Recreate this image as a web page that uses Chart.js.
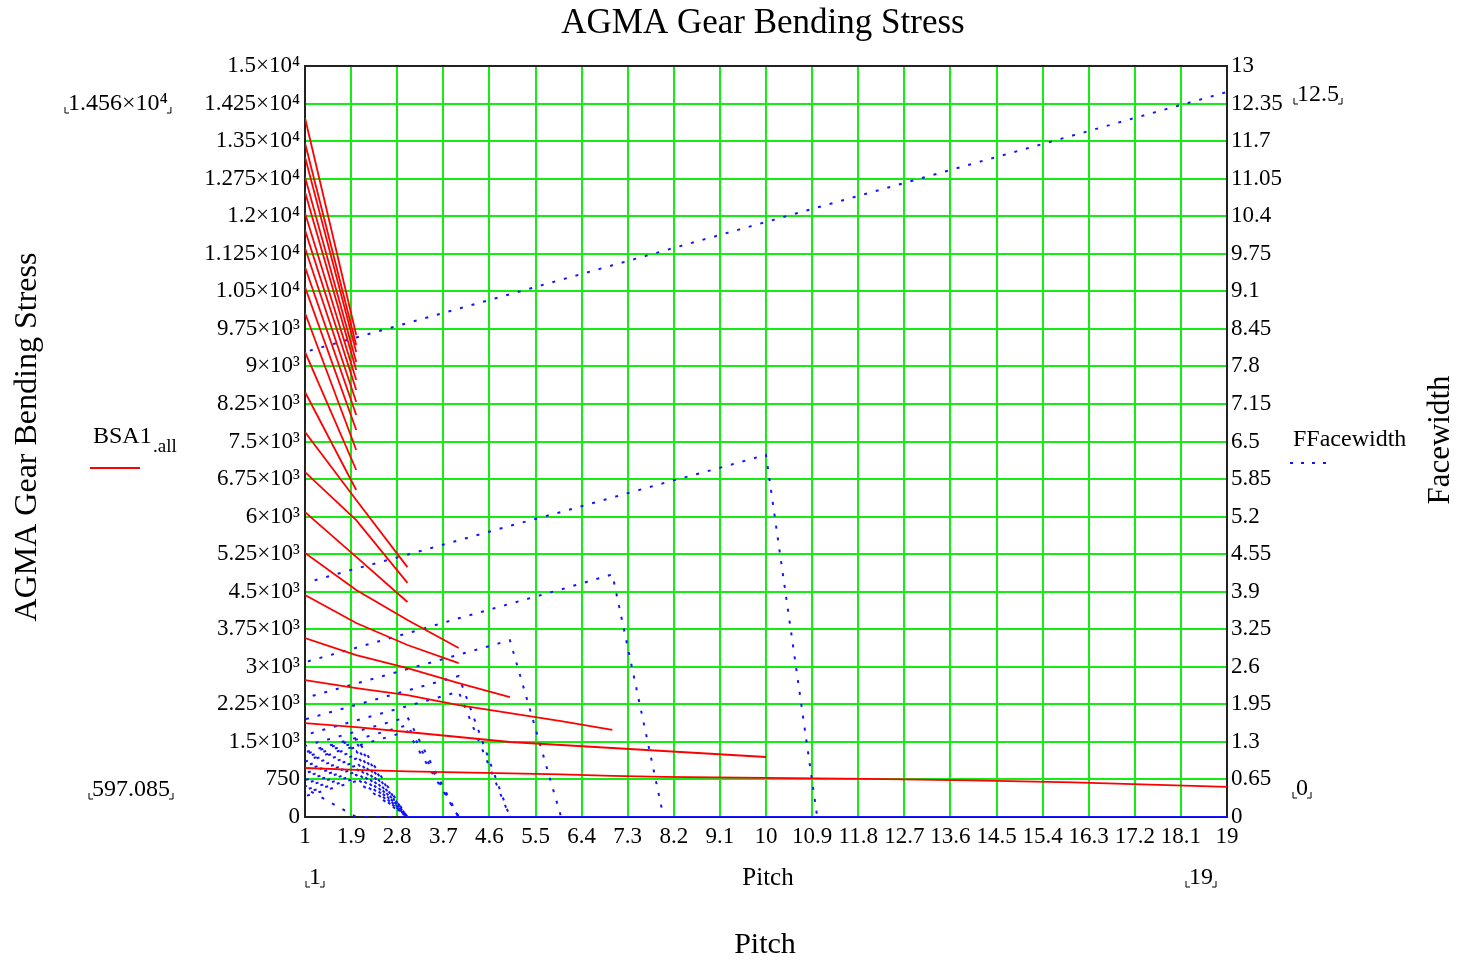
<!DOCTYPE html>
<html lang="en">
<head>
  <meta charset="UTF-8" />
  <title>AGMA Gear Bending Stress</title>
  <script src="https://cdn.jsdelivr.net/npm/chart.js"></script>
  <style>
    html, body { margin: 0; padding: 0; background: #fff; }
    #wrap { width: 1458px; height: 965px; }
  </style>
</head>
<body>
  <div id="wrap"><canvas id="gearChart"></canvas></div>

  <script>
    // Pitch values (x) and the tick labels of the three axes
    const pitch = [1, 2, 3, 4, 5, 6, 7, 8, 9, 10, 11, 12, 13, 14, 15, 16, 17, 18, 19];
    const pitchTicks = [1, 1.9, 2.8, 3.7, 4.6, 5.5, 6.4, 7.3, 8.2, 9.1, 10, 10.9, 11.8, 12.7, 13.6, 14.5, 15.4, 16.3, 17.2, 18.1, 19];
    const stressTicks = [0, 750, 1500, 2250, 3000, 3750, 4500, 5250, 6000, 6750, 7500, 8250, 9000, 9750, 10500, 11250, 12000, 12750, 13500, 14250, 15000];
    const faceTicks = [0, 0.65, 1.3, 1.95, 2.6, 3.25, 3.9, 4.55, 5.2, 5.85, 6.5, 7.15, 7.8, 8.45, 9.1, 9.75, 10.4, 11.05, 11.7, 12.35, 13];

    // BSA1.all - stress traces that stop at pitch 2 (value at pitch 1, value at pitch 2)
    const bsaTo2Start = [13961, 13462, 13182, 12783, 12483, 12064, 11724, 11365, 10985, 10586, 10066, 9288, 8489];
    const bsaTo2End = [9627, 9427, 9288, 9088, 8928, 8728, 8528, 8289, 8029, 7730, 7330, 6931, 6531];
    // longer stress traces, pitch 1..n
    const bsaTo3a = [7690, 6330, 4990];
    const bsaTo3b = [6890, 5930, 4675];
    const bsaTo3c = [6090, 5195, 4295];
    const bsaTo4a = [5275, 4535, 3935, 3375];
    const bsaTo4b = [4435, 3875, 3435, 3075];
    const bsaTo5 = [3575, 3235, 2975, 2675, 2395];
    const bsaTo7 = [2735, 2575, 2435, 2235, 2075, 1915, 1740];
    const bsaTo10 = [1877, 1797, 1698, 1598, 1498, 1438, 1378, 1318, 1258, 1198];
    const bsaTo19 = [979, 940, 910, 890, 870, 850, 820, 800, 790, 780, 770, 760, 745, 730, 710, 690, 660, 630, 600];

    // FFacewidth - matching facewidth traces, 0 after the last valid pitch
    const fwTo1 = [0.5];
    const fwTo2Start = [0.36, 0.42, 0.47, 0.53, 0.58, 0.64, 0.70, 0.76, 0.82, 0.89, 0.96, 1.04, 1.12];
    const fwTo2End = [0.62, 0.67, 0.73, 0.78, 0.84, 0.89, 0.95, 1.01, 1.07, 1.14, 1.21, 1.29, 1.37];
    const fwTo3a = [0.98, 1.23, 1.48];
    const fwTo3b = [1.09, 1.34, 1.59];
    const fwTo3c = [1.23, 1.48, 1.73];
    const fwTo4a = [1.42, 1.67, 1.92, 2.17];
    const fwTo4b = [1.69, 1.94, 2.19, 2.44];
    const fwTo5 = [2.06, 2.31, 2.56, 2.81, 3.06];
    const fwTo7 = [2.68, 2.93, 3.18, 3.44, 3.69, 3.94, 4.2];
    const fwTo10 = [4.05, 4.3, 4.54, 4.79, 5.04, 5.28, 5.53, 5.78, 6.02, 6.27];
    const fwTo19 = [8.05, 8.3, 8.55, 8.8, 9.05, 9.3, 9.55, 9.8, 10.05, 10.3, 10.55, 10.8, 11.05, 11.3, 11.55, 11.8, 12.05, 12.3, 12.55];

    const serif = "'Liberation Serif', 'Times New Roman', serif";

    function redTrace(values) {
      return {
        data: values.map((v, i) => ({ x: pitch[i], y: v })),
        yAxisID: 'y',
        borderColor: '#ff0000',
        borderWidth: 1.8,
        pointRadius: 0,
        tension: 0
      };
    }

    let dashShift = 0;
    function blueTrace(values) {
      // facewidth falls to 0 past the last pitch
      const full = values.concat(new Array(pitch.length - values.length).fill(0));
      dashShift = (dashShift + 5) % 12; // stagger the dots so parallel traces don't line up
      return {
        data: full.map((v, i) => ({ x: pitch[i], y: v })),
        yAxisID: 'y2',
        borderColor: '#1414ff',
        borderWidth: 2,
        borderDash: [3, 9],
        borderDashOffset: dashShift,
        pointRadius: 0,
        tension: 0
      };
    }

    const datasets = [];
    bsaTo2Start.forEach((s, i) => datasets.push(redTrace([s, bsaTo2End[i]])));
    [bsaTo3a, bsaTo3b, bsaTo3c, bsaTo4a, bsaTo4b, bsaTo5, bsaTo7, bsaTo10, bsaTo19]
      .forEach(t => datasets.push(redTrace(t)));
    datasets.push(blueTrace(fwTo1));
    fwTo2Start.forEach((s, i) => datasets.push(blueTrace([s, fwTo2End[i]])));
    [fwTo3a, fwTo3b, fwTo3c, fwTo4a, fwTo4b, fwTo5, fwTo7, fwTo10, fwTo19]
      .forEach(t => datasets.push(blueTrace(t)));

    // Mathcad style numbers: 1.5x10^3
    const sup = { 3: '\u00b3', 4: '\u2074' };
    function mathcadNum(v) {
      if (v < 1000) return String(v);
      const e = Math.floor(Math.log10(v));
      const m = +(v / Math.pow(10, e)).toFixed(4);
      return m + '\u00d710' + sup[e];
    }

    function bracketed(ctx, text, x, y) {
      const w = ctx.measureText(text).width;
      ctx.fillText(text, x, y);
      ctx.beginPath();
      ctx.moveTo(x - 3, y + 3); ctx.lineTo(x - 3, y + 9); ctx.lineTo(x + 1, y + 9);
      ctx.moveTo(x + w + 3, y + 3); ctx.lineTo(x + w + 3, y + 9); ctx.lineTo(x + w - 1, y + 9);
      ctx.stroke();
    }

    const frame = {
      id: 'frame',
      beforeDatasetsDraw(chart) {
        const { ctx, chartArea: a } = chart;
        ctx.save();
        ctx.strokeStyle = '#222';
        ctx.lineWidth = 2;
        ctx.strokeRect(a.left, a.top, a.right - a.left, a.bottom - a.top);
        ctx.restore();
      },
      afterDraw(chart) {
        const ctx = chart.ctx;
        ctx.save();
        ctx.fillStyle = '#000';
        ctx.strokeStyle = '#000';
        ctx.lineWidth = 1;
        ctx.textBaseline = 'middle';

        // title
        ctx.textAlign = 'center';
        ctx.font = '35px ' + serif;
        ctx.fillText('AGMA Gear Bending Stress', 763, 24);

        // x axis titles
        ctx.font = '25px ' + serif;
        ctx.fillText('Pitch', 768, 878);
        ctx.font = '30px ' + serif;
        ctx.fillText('Pitch', 765, 945);

        // rotated axis titles
        ctx.save();
        ctx.translate(28, 437);
        ctx.rotate(-Math.PI / 2);
        ctx.font = '32px ' + serif;
        ctx.fillText('AGMA Gear Bending Stress', 0, 0);
        ctx.restore();
        ctx.save();
        ctx.translate(1441, 440);
        ctx.rotate(-Math.PI / 2);
        ctx.font = '31px ' + serif;
        ctx.fillText('Facewidth', 0, 0);
        ctx.restore();

        // legend entries
        ctx.textAlign = 'left';
        ctx.font = '24px ' + serif;
        ctx.fillText('BSA1', 93, 437);
        ctx.font = '19px ' + serif;
        ctx.fillText('.all', 153, 447);
        ctx.font = '24px ' + serif;
        ctx.fillText('FFacewidth', 1293, 440);
        ctx.strokeStyle = '#ff0000';
        ctx.lineWidth = 2;
        ctx.beginPath(); ctx.moveTo(90, 468); ctx.lineTo(140, 468); ctx.stroke();
        ctx.strokeStyle = '#1414ff';
        ctx.setLineDash([3, 8]);
        ctx.beginPath(); ctx.moveTo(1290, 463); ctx.lineTo(1334, 463); ctx.stroke();
        ctx.setLineDash([]);

        // axis limit markers
        ctx.strokeStyle = '#000';
        ctx.lineWidth = 1;
        ctx.font = '24px ' + serif;
        bracketed(ctx, '1.456\u00d710\u2074', 68, 104);
        bracketed(ctx, '597.085', 92, 790);
        bracketed(ctx, '12.5', 1297, 95);
        bracketed(ctx, '0', 1296, 789);
        bracketed(ctx, '1', 309, 878);
        bracketed(ctx, '19', 1189, 878);
        ctx.restore();
      }
    };

    const tickFont = { family: serif, size: 23 };

    new Chart(document.getElementById('gearChart'), {
      type: 'line',
      data: { datasets },
      options: {
        responsive: true,
        maintainAspectRatio: false,
        animation: false,
        devicePixelRatio: 1,
        layout: { padding: { top: 66, left: 0, right: 0, bottom: 0 } },
        plugins: { legend: { display: false }, tooltip: { enabled: false } },
        scales: {
          x: {
            type: 'linear',
            min: 1,
            max: 19,
            afterBuildTicks: s => { s.ticks = pitchTicks.map(v => ({ value: v })); },
            afterFit: s => { s.height = 148; },
            ticks: { autoSkip: false, maxRotation: 0, padding: 6, color: '#000', font: tickFont,
                     callback: v => String(v) },
            grid: { color: '#14ec14', lineWidth: 2, drawTicks: false },
            border: { display: false }
          },
          y: {
            position: 'left',
            min: 0,
            max: 15000,
            afterBuildTicks: s => { s.ticks = stressTicks.map(v => ({ value: v })); },
            afterFit: s => { s.width = 305; },
            ticks: { padding: 5, color: '#000', font: tickFont, callback: v => mathcadNum(v) },
            grid: { color: '#14ec14', lineWidth: 2, drawTicks: false },
            border: { display: false }
          },
          y2: {
            position: 'right',
            min: 0,
            max: 13,
            afterBuildTicks: s => { s.ticks = faceTicks.map(v => ({ value: v })); },
            afterFit: s => { s.width = 231; },
            ticks: { padding: 4, color: '#000', font: tickFont, callback: v => String(v) },
            grid: { drawOnChartArea: false, drawTicks: false },
            border: { display: false }
          }
        }
      },
      plugins: [frame]
    });
  </script>
</body>
</html>
